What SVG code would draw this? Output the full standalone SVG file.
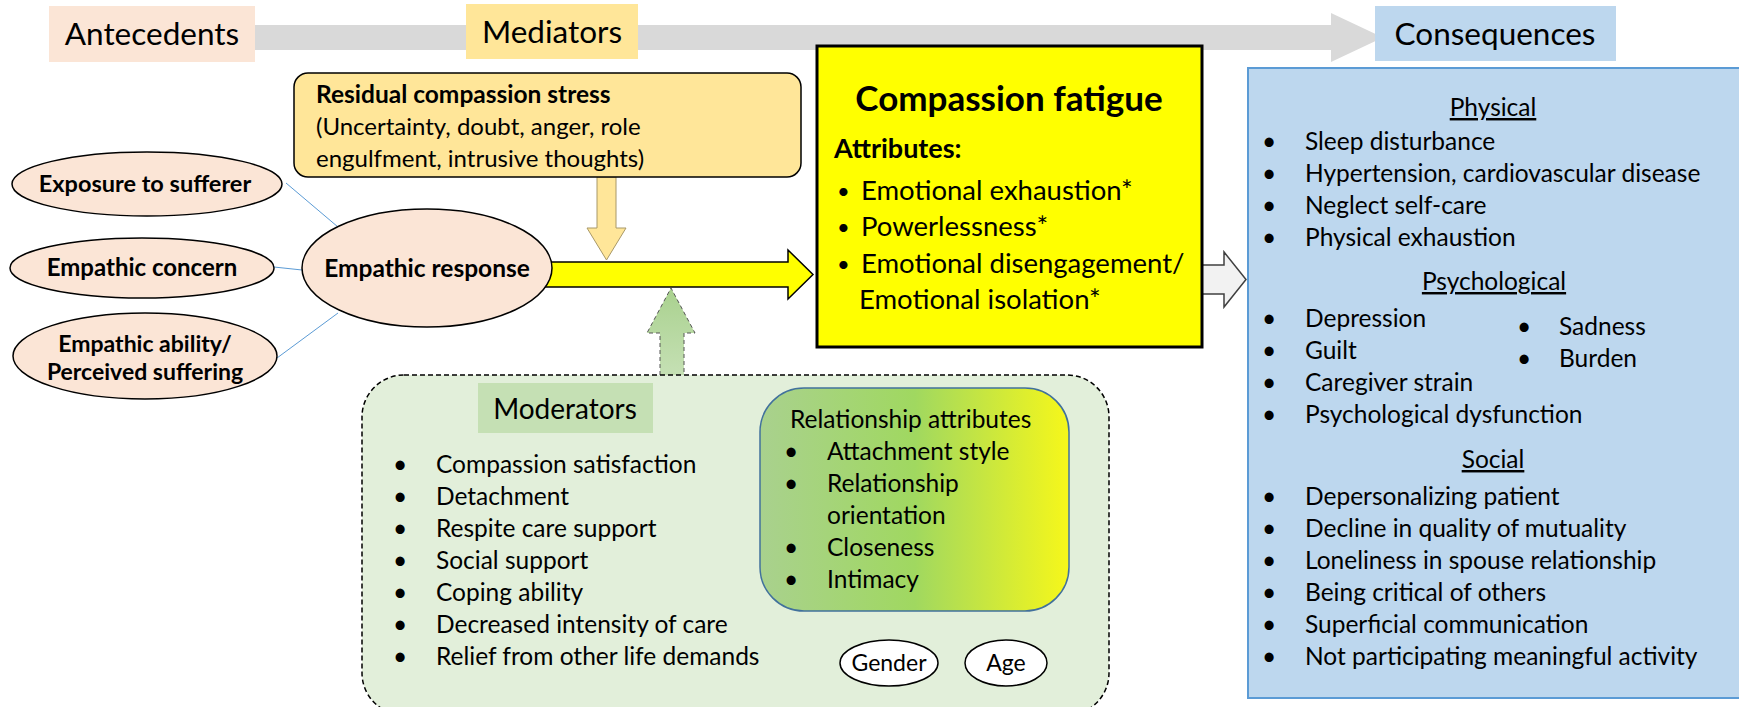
<svg xmlns="http://www.w3.org/2000/svg" width="1739" height="707" viewBox="0 0 1739 707">
  <defs>
    <linearGradient id="relGrad" x1="0" y1="0" x2="1" y2="0">
      <stop offset="0" stop-color="#a9d18e"/>
      <stop offset="0.5" stop-color="#a0d860"/>
      <stop offset="1" stop-color="#f6f71a"/>
    </linearGradient>
    <linearGradient id="upGrad" x1="0" y1="0" x2="0" y2="1">
      <stop offset="0" stop-color="#a9d18e"/>
      <stop offset="1" stop-color="#c5e0b4"/>
    </linearGradient>
    <style>
      text { font-family: Lato, "Liberation Sans", sans-serif; fill: #000; }
      .hdr { font-size: 31.5px; }
      .b { font-weight: bold; }
      .oval { fill: #fbe5d6; stroke: #000; stroke-width: 1.5; }
      .link { stroke: #5b9bd5; stroke-width: 1; fill: none; }
      .it { font-size: 24.5px; }
      .cf { font-size: 27.5px; }
      .dot { font-size: 22px; }
      .rel { font-size: 24.5px; }
      .u { text-decoration: underline; }
    </style>
  </defs>

  <!-- Overall flow banner -->
  <g id="flow-banner">
    <path d="M150,25 L1331,25 L1331,13 L1383,37.5 L1331,62 L1331,50 L150,50 Z" fill="#d9d9d9"/>
  </g>

  <g id="antecedents-label">
    <rect x="49" y="6" width="206" height="56" fill="#fbe5d6"/>
    <text class="hdr" x="152" y="45" text-anchor="middle">Antecedents</text>
  </g>
  <g id="mediators-label">
    <rect x="466" y="4" width="172" height="55" fill="#ffe699"/>
    <text class="hdr" x="552" y="43" text-anchor="middle">Mediators</text>
  </g>
  <g id="consequences-label">
    <rect x="1375" y="6" width="241" height="55" fill="#bdd7ee"/>
    <text class="hdr" x="1495" y="45" text-anchor="middle">Consequences</text>
  </g>

  <!-- Connectors -->
  <g id="connectors">
    <line class="link" x1="286" y1="183" x2="338" y2="227"/>
    <line class="link" x1="274" y1="267" x2="302" y2="270"/>
    <line class="link" x1="277" y1="358" x2="338" y2="313"/>
    <path d="M540,262 L788,262 L788,250 L813,274.5 L788,299 L788,287 L540,287 Z" fill="#ffff00" stroke="#000" stroke-width="1.5"/>
    <path d="M597,177 L616,177 L616,228 L626,228 L606.5,260 L587,228 L597,228 Z" fill="#ffe699" stroke="#a89868" stroke-width="1"/>
    <path d="M660,375 L660,333 L647,333 L671,288 L695,333 L684,333 L684,375" fill="url(#upGrad)" stroke="#555" stroke-width="1" stroke-dasharray="4 3"/>
    <path d="M1202,265 L1224,265 L1224,252 L1246,279.5 L1224,307 L1224,294 L1202,294 Z" fill="#f2f2f2" stroke="#404040" stroke-width="1.5"/>
  </g>

  <!-- Mediator -->
  <g id="residual-stress">
    <rect x="294" y="73" width="507" height="104" rx="14" fill="#ffe699" stroke="#000" stroke-width="1.5"/>
    <text class="b" x="316" y="103" font-size="24.5">Residual compassion stress</text>
    <text x="316" y="135" font-size="24">(Uncertainty, doubt, anger, role</text>
    <text x="316" y="167" font-size="24">engulfment, intrusive thoughts)</text>
  </g>

  <!-- Antecedents -->
  <g id="exposure">
    <ellipse class="oval" cx="147" cy="184" rx="135" ry="32"/>
    <text class="b" x="145" y="192" font-size="23.5" text-anchor="middle">Exposure to sufferer</text>
  </g>
  <g id="empathic-concern">
    <ellipse class="oval" cx="142" cy="268" rx="132" ry="30"/>
    <text class="b" x="142" y="276" font-size="24" text-anchor="middle">Empathic concern</text>
  </g>
  <g id="empathic-ability">
    <ellipse class="oval" cx="145" cy="356" rx="132" ry="43"/>
    <text class="b" x="145" y="352" font-size="23" text-anchor="middle">Empathic ability/</text>
    <text class="b" x="145" y="380" font-size="23" text-anchor="middle">Perceived suffering</text>
  </g>
  <g id="empathic-response">
    <ellipse class="oval" cx="427" cy="268" rx="125" ry="59"/>
    <text class="b" x="427" y="277" font-size="24.5" text-anchor="middle">Empathic response</text>
  </g>

  <!-- Core concept -->
  <g id="compassion-fatigue">
    <rect x="817" y="46" width="385" height="301" fill="#ffff00" stroke="#000" stroke-width="3"/>
    <text class="b" x="1009" y="111" font-size="35" text-anchor="middle">Compassion fatigue</text>
    <text class="b" x="834" y="158" font-size="27">Attributes:</text>
    <text class="dot" x="837" y="199">•</text>
    <text class="cf" x="861" y="200">Emotional exhaustion*</text>
    <text class="dot" x="837" y="235">•</text>
    <text class="cf" x="861" y="236">Powerlessness*</text>
    <text class="dot" x="837" y="272">•</text>
    <text class="cf" x="861" y="273">Emotional disengagement/</text>
    <text class="cf" x="859" y="309">Emotional isolation*</text>
  </g>

  <!-- Moderators -->
  <g id="moderators">
    <rect x="362" y="375" width="747" height="340" rx="42" fill="#e2efda" stroke="#000" stroke-width="1.5" stroke-dasharray="5 3"/>
    <rect x="478" y="383" width="175" height="50" fill="#c5e0b4"/>
    <text x="565" y="419" font-size="28" text-anchor="middle">Moderators</text>
    <g class="it">
      <text x="393" y="473">•</text><text x="436" y="473">Compassion satisfaction</text>
      <text x="393" y="505">•</text><text x="436" y="505">Detachment</text>
      <text x="393" y="537">•</text><text x="436" y="537">Respite care support</text>
      <text x="393" y="569">•</text><text x="436" y="569">Social support</text>
      <text x="393" y="601">•</text><text x="436" y="601">Coping ability</text>
      <text x="393" y="633">•</text><text x="436" y="633">Decreased intensity of care</text>
      <text x="393" y="665">•</text><text x="436" y="665">Relief from other life demands</text>
    </g>
  </g>
  <g id="relationship-attributes">
    <rect x="760" y="388" width="309" height="223" rx="44" fill="url(#relGrad)" stroke="#41719c" stroke-width="1.5"/>
    <g class="rel">
      <text x="790" y="428">Relationship attributes</text>
      <text x="784" y="460">•</text><text x="827" y="460">Attachment style</text>
      <text x="784" y="492">•</text><text x="827" y="492">Relationship</text>
      <text x="827" y="524">orientation</text>
      <text x="784" y="556">•</text><text x="827" y="556">Closeness</text>
      <text x="784" y="588">•</text><text x="827" y="588">Intimacy</text>
    </g>
  </g>
  <g id="gender">
    <ellipse cx="889" cy="663" rx="49" ry="23" fill="#fff" stroke="#000" stroke-width="1.5"/>
    <text x="889" y="671" font-size="23" text-anchor="middle">Gender</text>
  </g>
  <g id="age">
    <ellipse cx="1006" cy="663" rx="41" ry="23" fill="#fff" stroke="#000" stroke-width="1.5"/>
    <text x="1006" y="671" font-size="23" text-anchor="middle">Age</text>
  </g>

  <!-- Consequences -->
  <g id="consequences">
    <rect x="1248" y="68" width="500" height="630" fill="#bdd7ee" stroke="#5b9bd5" stroke-width="2"/>
    <g class="it">
      <text class="u" x="1493" y="116" text-anchor="middle">Physical</text>
      <text x="1262" y="150">•</text><text x="1305" y="150">Sleep disturbance</text>
      <text x="1262" y="182">•</text><text x="1305" y="182">Hypertension, cardiovascular disease</text>
      <text x="1262" y="214">•</text><text x="1305" y="214">Neglect self-care</text>
      <text x="1262" y="246">•</text><text x="1305" y="246">Physical exhaustion</text>
      <text class="u" x="1494" y="290" text-anchor="middle">Psychological</text>
      <text x="1262" y="327">•</text><text x="1305" y="327">Depression</text>
      <text x="1262" y="359">•</text><text x="1305" y="359">Guilt</text>
      <text x="1262" y="391">•</text><text x="1305" y="391">Caregiver strain</text>
      <text x="1262" y="423">•</text><text x="1305" y="423">Psychological dysfunction</text>
      <text x="1517" y="335">•</text><text x="1559" y="335">Sadness</text>
      <text x="1517" y="367">•</text><text x="1559" y="367">Burden</text>
      <text class="u" x="1493" y="468" text-anchor="middle">Social</text>
      <text x="1262" y="505">•</text><text x="1305" y="505">Depersonalizing patient</text>
      <text x="1262" y="537">•</text><text x="1305" y="537">Decline in quality of mutuality</text>
      <text x="1262" y="569">•</text><text x="1305" y="569">Loneliness in spouse relationship</text>
      <text x="1262" y="601">•</text><text x="1305" y="601">Being critical of others</text>
      <text x="1262" y="633">•</text><text x="1305" y="633">Superficial communication</text>
      <text x="1262" y="665">•</text><text x="1305" y="665">Not participating meaningful activity</text>
    </g>
  </g>
</svg>
